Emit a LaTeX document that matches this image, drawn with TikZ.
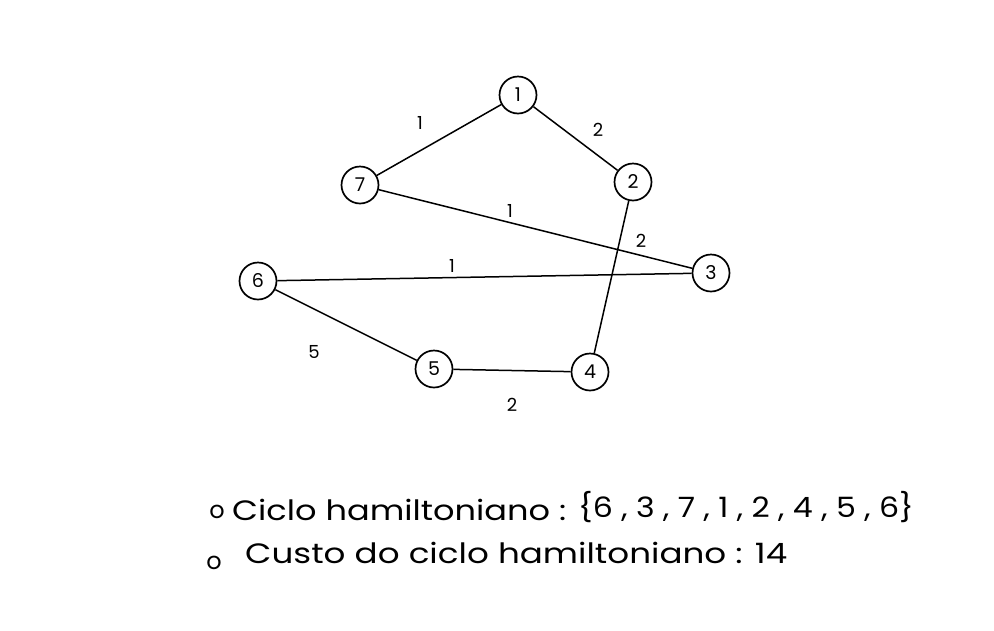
\documentclass[tikz,border=0pt]{standalone}
\usepackage{fontspec}
\setmainfont{Poppins}
\begin{document}
\begin{tikzpicture}[x=1pt,y=-1pt,
  vtx/.style={circle,draw,line width=1.7pt,minimum size=37pt,inner sep=0pt,font=\fontsize{19}{19}\selectfont},
  edge/.style={line width=1.5pt},
  wlab/.style={font=\fontsize{18}{18}\selectfont,inner sep=1pt},
  txt/.style={font=\fontsize{28}{28}\selectfont,anchor=west,inner sep=0pt},
  bul/.style={font=\fontsize{24}{24}\selectfont,inner sep=0pt}]
\useasboundingbox (0,0) rectangle (994,630);
\fill[white] (0,0) rectangle (994,630);
\node[vtx] (n1) at (518,95) {1};
\node[vtx] (n2) at (633,182) {2};
\node[vtx] (n7) at (360,185) {7};
\node[vtx] (n3) at (711,273) {3};
\node[vtx] (n6) at (258,281) {6};
\node[vtx] (n5) at (434,369) {5};
\node[vtx] (n4) at (590,372) {4};
\draw[edge] (n7) -- (n1);
\draw[edge] (n1) -- (n2);
\draw[edge] (n7) -- (n3);
\draw[edge] (n2) -- (n4);
\draw[edge] (n6) -- (n3);
\draw[edge] (n6) -- (n5);
\draw[edge] (n5) -- (n4);
\node[wlab] (w71) at (420,123) {1};
\node[wlab] (w12) at (598,130) {2};
\node[wlab] (w73) at (510,211) {1};
\node[wlab] (w24) at (641,241) {2};
\node[wlab] (w63) at (452,266) {1};
\node[wlab] (w65) at (314,352) {5};
\node[wlab] (w54) at (512,405) {2};
\node[bul] (b1) at (217,512) {o};
\node[txt] (t1) at (232,510) {\scalebox{1.2}[1]{Ciclo hamiltoniano :}};
\node[txt] (t1b) at (578,507) {\scalebox{1.13}[1]{\{6 , 3 , 7 , 1 , 2 , 4 , 5 , 6\}}};
\node[bul] (b2) at (214,563) {o};
\node[txt] (t2) at (245,553) {\scalebox{1.22}[1]{Custo do ciclo hamiltoniano : 14}};
\end{tikzpicture}
\end{document}
